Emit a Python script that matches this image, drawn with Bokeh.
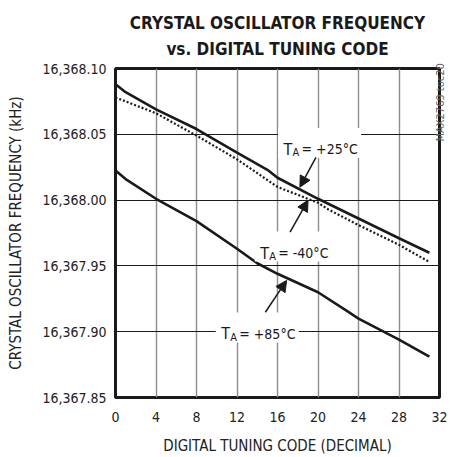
import math
from bokeh.plotting import figure
from bokeh.models import (Range1d, FixedTicker, NumeralTickFormatter, Arrow, NormalHead,
                          Title, LinearAxis)
from bokeh.embed import file_html
from bokeh.resources import INLINE
from bokeh.core.properties import value

FONT = "DejaVu Sans Condensed, Roboto, sans-serif"

# ---- data ----
code_25 = [0, 1, 4, 8, 12, 15, 16, 20, 24, 28, 31]
freq_25 = [16368.088, 16368.082, 16368.069, 16368.054, 16368.036, 16368.023,
           16368.017, 16368.001, 16367.986, 16367.971, 16367.960]

code_m40 = [0, 4, 8, 12, 16, 20, 21, 24, 28, 31]
freq_m40 = [16368.078, 16368.066, 16368.049, 16368.031, 16368.010, 16367.998,
            16367.993, 16367.981, 16367.966, 16367.953]

code_85 = [0, 1, 4, 8, 12, 14, 16, 20, 23, 24, 28, 31]
freq_85 = [16368.0225, 16368.016, 16368.001, 16367.984, 16367.963, 16367.952,
           16367.944, 16367.930, 16367.915, 16367.910, 16367.894, 16367.881]

x_ticks = [0, 4, 8, 12, 16, 20, 24, 28, 32]
y_ticks = [16367.85, 16367.90, 16367.95, 16368.00, 16368.05, 16368.10]

tag_rest = ["= +25°C", "= -40°C", "= +85°C"]
tag_x = [20.15, 17.85, 14.0]
tag_y = [16368.0434, 16367.9647, 16367.9032]
arrow_tail = [(19.8, 16368.0324), (17.24, 16367.9756), (14.8, 16367.9148)]
arrow_tip = [(18.21, 16368.0098), (19.02, 16368.000), (16.9, 16367.939)]

note_text = "MAX2769 toc20"
note_y = 16368.0445

X0, X1 = 0, 32
Y0, Y1 = 16367.85, 16368.10

p = figure(width=456, height=457, x_range=Range1d(X0, X1), y_range=Range1d(Y0, Y1),
           output_backend="svg", toolbar_location=None,
           min_border_left=115, min_border_right=13, min_border_top=68, min_border_bottom=60)
p.background_fill_color = "white"
p.border_fill_color = "white"
p.outline_line_color = "#1a1a1a"
p.outline_line_width = 3

for ax in (p.xaxis[0], p.yaxis[0]):
    ax.axis_line_color = None
    ax.major_tick_line_color = None
    ax.minor_tick_line_color = None
    ax.major_tick_out = 0
    ax.major_tick_in = 0
    ax.major_label_text_font = FONT
    ax.major_label_text_font_size = "14px"
    ax.major_label_text_color = "#222222"
    ax.axis_label_text_font = FONT
    ax.axis_label_text_font_size = "15px"
    ax.axis_label_text_font_style = "normal"
    ax.axis_label_text_color = "#222222"

p.xaxis.ticker = FixedTicker(ticks=x_ticks)
p.yaxis.ticker = FixedTicker(ticks=y_ticks)
p.yaxis.formatter = NumeralTickFormatter(format="0,0.00")
p.xaxis.major_label_standoff = 14
p.yaxis.major_label_standoff = 9
p.xaxis.axis_label = "DIGITAL TUNING CODE (DECIMAL)"
p.yaxis.axis_label = "CRYSTAL OSCILLATOR FREQUENCY (kHz)"
p.xaxis.axis_label_standoff = 12
p.yaxis.axis_label_standoff = 14

# right-hand note as a single vertical tick label
rax = LinearAxis(ticker=FixedTicker(ticks=[note_y]), major_label_overrides={note_y: note_text},
                 major_label_orientation=math.pi / 2, axis_line_color=None,
                 major_tick_line_color=None, minor_tick_line_color=None,
                 major_tick_out=0, major_tick_in=0, major_label_standoff=1,
                 major_label_text_font=FONT, major_label_text_font_size="11px",
                 major_label_text_color="#666666")
p.add_layout(rax, "right")

p.xgrid.grid_line_color = "#8c8c8c"
p.xgrid.grid_line_width = 1.4
p.ygrid.grid_line_color = "#1a1a1a"
p.ygrid.grid_line_width = 1

p.line(code_25, freq_25, line_color="#1a1a1a", line_width=2.6)
p.line(code_m40, freq_m40, line_color="#1a1a1a", line_width=2.2, line_dash="2 2")
p.line(code_85, freq_85, line_color="#1a1a1a", line_width=2.6)

# labels with subscript
for xc, yc, rest in zip(tag_x, tag_y, tag_rest):
    p.rect(x=[xc], y=[yc], width=83, height=30, width_units="screen", height_units="screen",
           fill_color="white", line_color=None)
    p.text(x=[xc], y=[yc], text=["T"], x_offset=-36, y_offset=6.5,
           text_font=value(FONT), text_font_size="16px", text_color="#1a1a1a",
           text_align="left", text_baseline="alphabetic")
    p.text(x=[xc], y=[yc], text=["A"], x_offset=-27, y_offset=10,
           text_font=value(FONT), text_font_size="11px", text_color="#1a1a1a",
           text_align="left", text_baseline="alphabetic")
    p.text(x=[xc], y=[yc], text=[rest], x_offset=-18, y_offset=6.5,
           text_font=value(FONT), text_font_size="14px", text_color="#1a1a1a",
           text_align="left", text_baseline="alphabetic")

for (xs, ys), (xe, ye) in zip(arrow_tail, arrow_tip):
    p.add_layout(Arrow(end=NormalHead(size=11, fill_color="#1a1a1a", line_color="#1a1a1a", line_width=1),
                       x_start=xs, y_start=ys, x_end=xe, y_end=ye,
                       line_color="#1a1a1a", line_width=1.5))

# two-line title (p.title is the outer line, the added Title sits next to the frame)
p.title.text = "CRYSTAL OSCILLATOR FREQUENCY"
p.title.align = "center"
p.title.text_font = FONT
p.title.text_font_size = "17px"
p.title.text_font_style = "bold"
p.title.text_color = "#1a1a1a"
try:
    p.title.standoff = -4
except Exception:
    p.title.standoff = 0
p.add_layout(Title(text="vs. DIGITAL TUNING CODE", align="center", vertical_align="top",
                   text_font=FONT, text_font_size="17px", text_font_style="bold",
                   text_color="#1a1a1a", standoff=16), "above")

open("out.html", "w").write(file_html(p, INLINE))
